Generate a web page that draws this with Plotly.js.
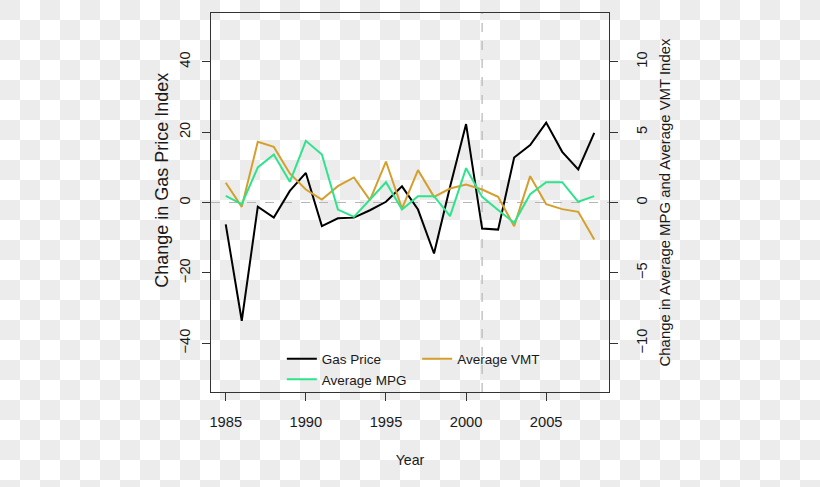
<!DOCTYPE html>
<html>
<head>
<meta charset="utf-8">
<script src="https://cdn.plot.ly/plotly-3.0.1.min.js"></script>
<style>
  html, body { margin: 0; padding: 0; }
  body {
    width: 820px; height: 487px; overflow: hidden;
    background-color: #ffffff;
    background-image: conic-gradient(#ffffff 0 25%, #ececec 0 50%, #ffffff 0 75%, #ececec 0);
    background-size: 40px 40px;
    background-position: 0 0;
  }
  #chart { width: 820px; height: 487px; }
</style>
</head>
<body>
<div id="chart"></div>
<script>
// ---- data ----
const years = [1985,1986,1987,1988,1989,1990,1991,1992,1993,1994,1995,1996,
               1997,1998,1999,2000,2001,2002,2003,2004,2005,2006,2007,2008];
const gasPrice = [-6.2,-33.6,-1.2,-4.3,3.3,8.4,-6.7,-4.5,-4.3,-2.2,0.2,4.6,
                  -2.0,-14.5,4.5,22.3,-7.4,-7.7,12.8,16.3,22.7,14.4,9.4,19.8];
const avgMPG = [0.47,-0.12,2.49,3.41,1.47,4.38,3.41,-0.5,-1.02,0.24,1.44,-0.5,
                0.45,0.45,-0.97,2.44,0.4,-0.54,-1.44,0.59,1.44,1.44,0.05,0.45];
const avgVMT = [1.4,-0.31,4.31,3.95,2.06,0.92,0.21,1.16,1.78,0.17,2.91,-0.43,
                2.3,0.4,0.99,1.28,0.92,0.4,-1.68,1.87,-0.12,-0.47,-0.66,-2.63];
const xTicks = [1985,1990,1995,2000,2005];
const yLeftTicks = [-40,-20,0,20,40];
const yRightTicks = [-10,-5,0,5,10];
const refYear = 2001;
const seriesNames = ['Gas Price','Average VMT','Average MPG'];
const leftTitle = 'Change in Gas Price Index';
const rightTitle = 'Change in Average MPG and Average VMT Index';

const fam = 'Liberation Sans, Arial, sans-serif';
const col = '#1a1a1a';
const tickFont = {family: fam, size: 14.7, color: col};
const axisCommon = {
  showgrid: false, zeroline: false, showline: true, linecolor: '#333', linewidth: 1,
  ticks: 'outside', ticklen: 8, tickcolor: '#333', tickwidth: 1, tickfont: tickFont,
};

const traces = [
  {x: years, y: gasPrice, name: seriesNames[0], type: 'scatter', mode: 'lines',
   line: {color: '#000000', width: 2}, yaxis: 'y'},
  {x: years, y: avgVMT, name: seriesNames[1], type: 'scatter', mode: 'lines',
   line: {color: '#d49f2c', width: 2}, yaxis: 'y2'},
  {x: years, y: avgMPG, name: seriesNames[2], type: 'scatter', mode: 'lines',
   line: {color: '#2ee38b', width: 2}, yaxis: 'y2'},
];

const layout = {
  width: 820, height: 487,
  paper_bgcolor: 'rgba(0,0,0,0)', plot_bgcolor: 'rgba(0,0,0,0)',
  margin: {l: 211, r: 211, t: 13, b: 95},
  font: {family: fam, size: 14, color: col},
  showlegend: true,
  legend: {
    orientation: 'h', x: 0.178, y: 0.128, xanchor: 'left', yanchor: 'top',
    bgcolor: 'rgba(0,0,0,0)', borderwidth: 0, font: {family: fam, size: 13.5, color: col},
    entrywidthmode: 'fraction', entrywidth: 0.34, traceorder: 'normal'
  },
  xaxis: Object.assign({}, axisCommon, {
    range: [1984.08, 2008.92], tickvals: xTicks, mirror: true,
    ticklabelstandoff: 8,
    title: {text: 'Year', font: {family: fam, size: 14.2, color: col}, standoff: 26}
  }),
  yaxis: Object.assign({}, axisCommon, {
    range: [-53.85, 53.85], tickvals: yLeftTicks, tickangle: -90, mirror: true,
    ticklabelstandoff: 6
  }),
  yaxis2: Object.assign({}, axisCommon, {
    range: [-13.4625, 13.4625], tickvals: yRightTicks, tickangle: -90,
    overlaying: 'y', side: 'right', ticklabelstandoff: 11,
    title: {text: rightTitle, font: {family: fam, size: 14.9, color: col}, standoff: 10}
  }),
  annotations: [
    {text: leftTitle, xref: 'paper', yref: 'paper', x: -0.1239, y: 0.559,
     xanchor: 'center', yanchor: 'middle', textangle: -90, showarrow: false,
     font: {family: fam, size: 18, color: col}}
  ],
  shapes: [
    {type: 'line', xref: 'x', yref: 'paper', x0: refYear, x1: refYear, y0: 0, y1: 1,
     line: {color: '#b5b5b5', width: 1.2, dash: 'dash'}, layer: 'below'},
    {type: 'line', xref: 'paper', yref: 'y', x0: 0, x1: 1, y0: 0, y1: 0,
     line: {color: '#b5b5b5', width: 1.2, dash: 'dash'}, layer: 'below'}
  ]
};

Plotly.newPlot('chart', traces, layout, {displayModeBar: false, staticPlot: true});
</script>
</body>
</html>
